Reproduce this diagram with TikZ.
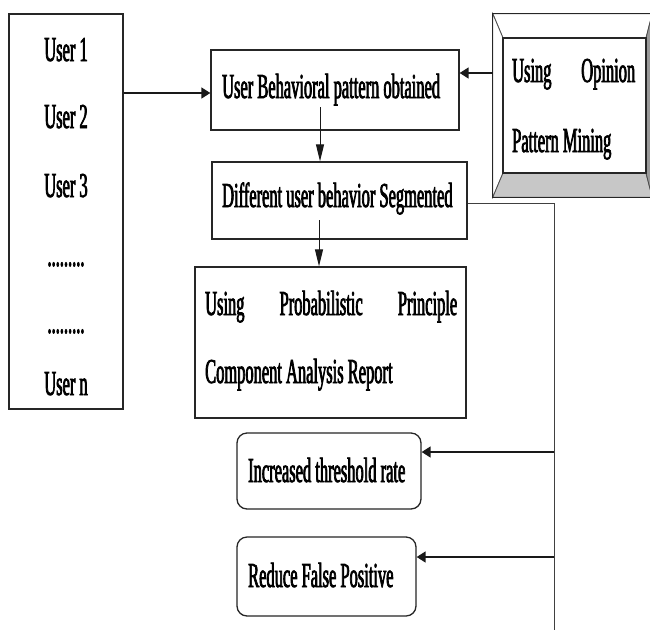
\documentclass[tikz,border=0pt]{standalone}
\usepackage{fontspec}
\setmainfont{Liberation Serif}[FakeStretch=0.47,FakeBold=2]
\usetikzlibrary{arrows.meta}
\begin{document}
\begin{tikzpicture}[x=1pt,y=-1pt,
  box/.style={draw=black!85, line width=1.3pt, inner sep=0pt, fill=white},
  rbox/.style={box, rounded corners=10pt},
  txt/.style={font=\fontsize{35}{40}\selectfont, inner sep=0pt, anchor=base west},
  ctxt/.style={txt, anchor=base},
  harr/.style={-{Triangle[length=9pt,width=11pt]}, line width=1.6pt, draw=black!90},
  varr/.style={-{Triangle[length=17pt,width=8pt]}, line width=1pt, draw=black!90},
  thin/.style={line width=1pt, draw=black!75}]
\useasboundingbox (0,0) rectangle (650,630);
\fill[white] (0,0) rectangle (650,630);

% users box
\node[box, minimum width=114pt, minimum height=395pt] (users) at (66,211.5) {};
\node[ctxt] (u1) at (66,61) {User 1};
\node[ctxt] (u2) at (66,128) {User 2};
\node[ctxt] (u3) at (66,197) {User 3};
\node[ctxt] (d1) at (66,266) {.........};
\node[ctxt] (d2) at (66,333) {.........};
\node[ctxt] (un) at (66,395) {User n};

% box 1
\node[box, minimum width=248pt, minimum height=80pt] (b1) at (335,90) {};
\node[txt] (t1) at (222,98) {User Behavioral pattern obtained};

% box 2
\node[box, minimum width=255pt, minimum height=77pt] (b2) at (339.5,200.5) {};
\node[txt] (t2) at (222,207) {Different user behavior Segmented};

% box 3
\node[box, minimum width=271pt, minimum height=151pt] (b3) at (330.5,342.5) {};
\node[txt] (t3a) at (205,315) {\makebox[252pt][s]{Using Probabilistic Principle}};
\node[txt] (t3b) at (205,383) {Component Analysis Report};

% rounded boxes
\node[rbox, minimum width=184pt, minimum height=76pt] (b4) at (329,471) {};
\node[txt] (t4) at (248,482) {Increased threshold rate};
\node[rbox, minimum width=179pt, minimum height=79pt] (b5) at (326.5,576.5) {};
\node[txt] (t5) at (248,587) {Reduce False Positive};

% opinion bevel box
\node[inner sep=0pt, minimum width=159pt, minimum height=183pt] (op) at (572.5,105.5) {};
\coordinate (oi1) at (503,38);
\coordinate (oi2) at (646,173);
\fill[white] (op.north west) rectangle (op.south east);
\filldraw[fill=white, draw=black!70, line width=0.8pt] (op.north west) -- (op.north east) -- (oi2 |- oi1) -- (oi1) -- cycle;
\filldraw[fill=white, draw=black!70, line width=0.8pt] (op.north west) -- (oi1) -- (oi1 |- oi2) -- (op.south west) -- cycle;
\filldraw[fill=black!22, draw=black!70, line width=0.8pt] (op.south west) -- (oi1 |- oi2) -- (oi2) -- (op.south east) -- cycle;
\filldraw[fill=black!40, draw=black!70, line width=0.8pt] (op.north east) -- (oi2 |- oi1) -- (oi2) -- (op.south east) -- cycle;
\draw[black!85, line width=1.3pt] (oi1) rectangle (oi2);
\draw[black!85, line width=1.3pt] (op.north west) rectangle (op.south east);
\node[txt] (o1) at (512,82) {\makebox[123pt][s]{Using Opinion}};
\node[txt] (o2) at (512,152) {Pattern Mining};

% connectors
\draw[harr] (users.east |- 0,93) -- (b1.west |- 0,93);
\draw[harr] (op.west |- 0,73) -- (b1.east |- 0,73);
\coordinate (s1) at (320,107);
\draw[varr] (s1) -- (s1 |- b2.north);
\coordinate (s2) at (319,220);
\draw[varr] (s2) -- (s2 |- b3.north);
\coordinate (v1) at (554,203);
\coordinate (v2) at (554,630);
\draw[thin] (b2.east |- v1) -- (v1) -- (v2);
\draw[harr] (v1 |- 0,452) -- (b4.east |- 0,452);
\draw[harr] (v1 |- 0,557) -- (b5.east |- 0,557);
\end{tikzpicture}
\end{document}
